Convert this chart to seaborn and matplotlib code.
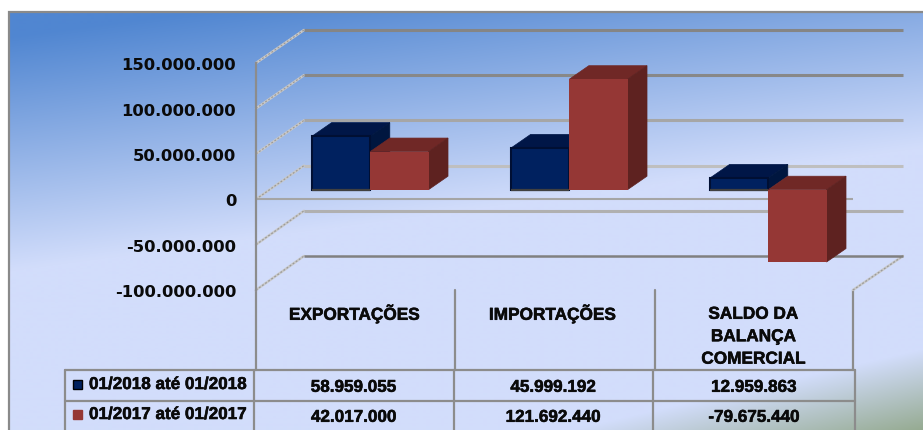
import numpy as np
import pandas as pd
import matplotlib
matplotlib.use("Agg")
import matplotlib.pyplot as plt
import matplotlib.patheffects as pe
from matplotlib.patches import Polygon, Rectangle
from matplotlib.transforms import IdentityTransform, Affine2D
import seaborn as sns

# ---- data ----
categories = ["EXPORTAÇÕES", "IMPORTAÇÕES", "SALDO DA\nBALANÇA\nCOMERCIAL"]
series_names = ["01/2018 até 01/2018", "01/2017 até 01/2017"]
values_2018 = [58959055, 45999192, 12959863]
values_2017 = [42017000, 121692440, -79675440]
y_ticks = [-100000000, -50000000, 0, 50000000, 100000000, 150000000]

# ---- styles ----
front_colors = ["#00215f", "#953735"]
top_colors = ["#001647", "#702826"]
side_colors = ["#00163f", "#5e2220"]
edge_colors = ["#000f33", "#953735"]
grid_colors = {-100000000: "#808080", -50000000: "#b0b0b0", 0: "#bfbfbf",
               50000000: "#a6a6a6", 100000000: "#888888", 150000000: "#858585"}
LINE = "#8c8c8c"
TEXT = "#0a0a0a"
W, H = 923, 430
THICK = [pe.withStroke(linewidth=0.4, foreground=TEXT)]


def fmt(v):
    return f"{v:,}".replace(",", ".")


sns.set_theme(style="white")
plt.rcParams["font.family"] = ["Liberation Sans", "DejaVu Sans"]

fig = plt.figure(figsize=(W / 100, H / 100), dpi=100, facecolor="white")


def axes_px(x0, y0, x1, y1, **kw):
    a = fig.add_axes([x0 / W, 1 - y1 / H, (x1 - x0) / W, (y1 - y0) / H], **kw)
    a.patch.set_alpha(0)
    return a


# canvas in pixel coordinates: background, frame, table
canvas = axes_px(0, 0, W, H, zorder=0)
canvas.set_xlim(0, W)
canvas.set_ylim(H, 0)
canvas.axis("off")

xx, yy = np.meshgrid(np.arange(9, W + 1), np.arange(12, H + 1))
c0 = np.array(matplotlib.colors.to_rgb("#5086d1"))
c1 = np.array(matplotlib.colors.to_rgb("#d2ddfb"))
c2 = np.array(matplotlib.colors.to_rgb("#96ab92"))
t = np.clip((yy - 25 + 0.135 * (xx - 90)) / 235, 0, 1)[..., None]
s = np.clip((yy - 350) / 80 + (xx - 923) / 350, 0, 1)[..., None]
img = c0 * (1 - t) + c1 * t
img = img * (1 - s) + c2 * s
canvas.imshow(img, extent=(9, W, H, 12), aspect="auto", interpolation="bilinear", zorder=0)
canvas.set_xlim(0, W)
canvas.set_ylim(H, 0)
canvas.plot([9, 9, W], [H, 12, 12], color="#8a8a8a", lw=1.6, zorder=1, solid_joinstyle="miter")

YLIM = (-100000000, 150000000)
XLIM = (-0.5, 2.5)

# back wall gridlines
ax_back = axes_px(304, 30, 903, 256, zorder=1)
ax_back.set_xlim(*XLIM)
ax_back.set_ylim(*YLIM)
ax_back.axis("off")
for v in y_ticks:
    ax_back.hlines(v, *XLIM, color=grid_colors[v], lw=2.2 if v != -100000000 else 1.8, clip_on=False)

# front plane with the tick labels
ax_front = axes_px(256, 63, 853, 290, zorder=2)
ax_front.set_xlim(*XLIM)
ax_front.set_ylim(*YLIM)
for sp in ["top", "right", "bottom"]:
    ax_front.spines[sp].set_visible(False)
ax_front.spines["left"].set_color(LINE)
ax_front.spines["left"].set_linewidth(1.6)
ax_front.set_yticks(y_ticks)
ax_front.set_yticklabels([fmt(v) for v in y_ticks], family="DejaVu Sans", fontweight="bold",
                         fontsize=11.75, color=TEXT)
ax_front.tick_params(axis="y", length=0, pad=14.2, left=False)
ax_front.set_xticks(range(len(categories)))
ax_front.set_xticklabels(categories, fontweight="bold", fontsize=12.4, color=TEXT,
                         linespacing=1.62, va="top")
ax_front.tick_params(axis="x", length=0, pad=11, bottom=False)
xlabs = ax_front.get_xticklabels()
for lab in xlabs:
    lab.set_path_effects(THICK)
xlabs[0].set_transform(xlabs[0].get_transform() + Affine2D().translate(-1, 0.5))
xlabs[1].set_transform(xlabs[1].get_transform() + Affine2D().translate(-2, 0.5))
xlabs[2].set_transform(xlabs[2].get_transform() + Affine2D().translate(0, -1.5))
for lab in ax_front.get_yticklabels():
    lab.set_transform(lab.get_transform() + Affine2D().translate(0, -1.2))
ax_front.hlines(0, XLIM[0], XLIM[1], color="#a5a5a5", lw=1.5, clip_on=False)

# depth lines
for v, xa in [(v, XLIM[0]) for v in y_ticks] + [(-100000000, XLIM[1])]:
    p = ax_front.transData.transform((xa, v))
    q = ax_back.transData.transform((xa, v))
    for c, lw, ls in [("#c9c9c9", 1.8, "-"), ("#9a9a9a", 0.9, (0, (1.5, 1.5)))]:
        fig.add_artist(plt.Line2D([p[0], q[0]], [p[1], q[1]], transform=IdentityTransform(),
                                  color=c, lw=lw, ls=ls, zorder=0.5))

# separators
for x, y0 in [(455, 290), (655, 290), (853, 290)]:
    canvas.plot([x, x], [y0, 370], color=LINE, lw=1.6, zorder=2)
canvas.plot([256, 256], [290, 370], color=LINE, lw=1.6, zorder=2)

# bars
df = pd.DataFrame({
    "categoria": categories * 2,
    "periodo": [series_names[0]] * 3 + [series_names[1]] * 3,
    "valor": values_2018 + values_2017,
})
ax = axes_px(270.8, 53.5, 867.8, 280.5, zorder=3)
sns.barplot(data=df, x="categoria", y="valor", hue="periodo", hue_order=series_names,
            palette=front_colors, width=0.585, gap=0, saturation=1, legend=False, ax=ax)
ax.set_xlim(*XLIM)
ax.set_ylim(*YLIM)
ax.axis("off")

DX, DY = 19.5, 13.5
bars = sorted(ax.patches, key=lambda b: b.get_x())
for i, b in enumerate(bars):
    k = 0 if b.get_facecolor()[:3] == matplotlib.colors.to_rgb(front_colors[0]) else 1
    x0, x1 = b.get_x(), b.get_x() + b.get_width()
    ya, yb = sorted([0, b.get_height()])
    (px0, py0) = ax.transData.transform((x0, ya))
    (px1, py1) = ax.transData.transform((x1, yb))
    top = [(px0, py1), (px1, py1), (px1 + DX, py1 + DY), (px0 + DX, py1 + DY)]
    side = [(px1, py0), (px1, py1), (px1 + DX, py1 + DY), (px1 + DX, py0 + DY)]
    z = 3 + 2 * i
    ax.add_patch(Polygon(top, closed=True, fc=top_colors[k], ec=top_colors[k], lw=0.5,
                         transform=IdentityTransform(), zorder=z, clip_on=False))
    ax.add_patch(Polygon(side, closed=True, fc=side_colors[k], ec=side_colors[k], lw=0.5,
                         transform=IdentityTransform(), zorder=z, clip_on=False))
    b.set_edgecolor(edge_colors[k])
    b.set_linewidth(1.5 if k == 0 else 0)
    b.set_zorder(z + 1)
    b.set_clip_on(False)
    if k == 0:
        ax.plot([x0, x1], [ya, ya], color="#404040", lw=1.6, zorder=z + 1.5, clip_on=False,
                solid_capstyle="butt")

# data table
tx = [65, 254, 453.5, 653, 855]
ty = [370, 401, 430]
for x in tx:
    canvas.plot([x, x], [ty[0], ty[-1]], color=LINE, lw=1.6, zorder=2)
for y in ty[:2]:
    canvas.plot([tx[0], tx[-1]], [y, y], color=LINE, lw=1.6, zorder=2)

rows = [values_2018, values_2017]
for r, vals in enumerate(rows):
    yc = (ty[r] + ty[r + 1]) / 2 + 0.5
    canvas.add_patch(Rectangle((72.5, yc - 6.5), 9.5, 9.5, fc=front_colors[r],
                               ec="#000000" if r == 0 else front_colors[r], lw=1, zorder=3))
    canvas.text(89, yc - 1.5, series_names[r], ha="left", va="center", fontweight="bold",
                fontsize=12.3, color=TEXT, path_effects=THICK)
    for c, v in enumerate(vals):
        canvas.text((tx[c + 1] + tx[c + 2]) / 2, yc + 1.3, fmt(v), ha="center", va="center",
                    fontweight="bold", fontsize=12.3, color=TEXT, path_effects=THICK)

fig.savefig("out.png", dpi=100)
